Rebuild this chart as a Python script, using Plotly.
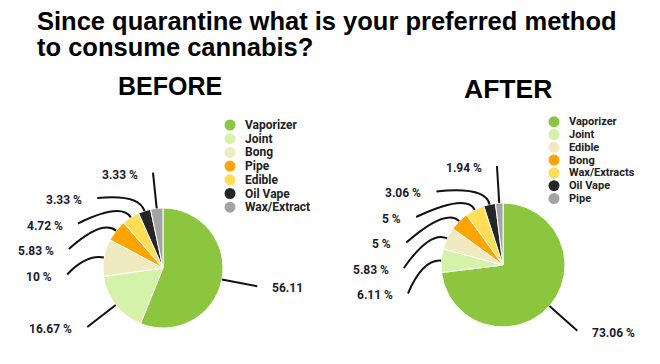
import math
import plotly.graph_objects as go

W, H = 660, 364

# ---- data ----
before_labels = ["Vaporizer", "Joint", "Bong", "Pipe", "Edible", "Oil Vape", "Wax/Extract"]
before_values = [56.11, 16.67, 10, 5.83, 4.72, 3.33, 3.33]
before_text = ["56.11", "16.67 %", "10 %", "5.83 %", "4.72 %", "3.33 %", "3.33 %"]

after_labels = ["Vaporizer", "Joint", "Edible", "Bong", "Wax/Extracts", "Oil Vape", "Pipe"]
after_values = [73.06, 6.11, 5.83, 5, 5, 3.06, 1.94]
after_text = ["73.06 %", "6.11 %", "5.83 %", "5 %", "5 %", "3.06 %", "1.94 %"]

slice_colors = ["#8cc63f", "#d5f2a9", "#efeabf", "#ffa400", "#fedd57", "#262626", "#a3a3a5"]

# ---- layout constants (pixels) ----
PIE_B = dict(cx=163, cy=268, r=60)
PIE_A = dict(cx=503, cy=265, r=62)
LEG_B = dict(x=230, y=125, step=13.7, size=12)
LEG_A = dict(x=554, y=121.7, step=12.8, size=11)

LABEL_FONT = dict(family="Roboto", size=12, color="#1a1a2e", weight="bold")


def px(x):
    return x / W


def py(y):
    return 1 - y / H


def domain(p):
    return dict(x=[px(p["cx"] - p["r"]), px(p["cx"] + p["r"])],
                y=[py(p["cy"] + p["r"]), py(p["cy"] - p["r"])])


fig = go.Figure()
for labels, values, p in ((before_labels, before_values, PIE_B), (after_labels, after_values, PIE_A)):
    fig.add_trace(go.Pie(
        labels=labels, values=values, sort=False, direction="clockwise", rotation=0,
        domain=domain(p), textinfo="none", hoverinfo="label+percent",
        marker=dict(colors=slice_colors, line=dict(color="white", width=1)),
        showlegend=False,
    ))

shapes = []
annotations = []


def leaders(values, texts, p, gap=25.5, k=1.6):
    cx, cy, r = p["cx"], p["cy"], p["r"]
    total = sum(values)
    cum = 0
    items = []
    for v, t in zip(values, texts):
        mid = (cum + v / 2) / total * 2 * math.pi
        cum += v
        items.append((mid, t))
    R = k * r
    left = [(m, t) for m, t in items if math.sin(m) < 0]
    right = [(m, t) for m, t in items if math.sin(m) >= 0]
    for side, sign in ((left, -1), (right, 1)):
        pts = sorted([(cy - R * math.cos(m), m, t) for m, t in side])
        prev = -1e9
        for y0, m, t in pts:
            y = max(y0, prev + gap)
            prev = y
            dy = y - cy
            dx = math.sqrt(max(R * R - dy * dy, 0))
            x = cx + sign * dx
            ex, ey = cx + r * math.sin(m), cy - r * math.cos(m)
            qx, qy = cx + 1.3 * r * math.sin(m), cy - 1.3 * r * math.cos(m)
            path = f"M {px(ex)},{py(ey)} Q {px(qx)},{py(qy)} {px(x)},{py(y)}"
            shapes.append(dict(type="path", path=path, xref="paper", yref="paper",
                               line=dict(color="#111111", width=2)))
            annotations.append(dict(
                text=t, x=px(x + sign * 13), y=py(y + 2), xref="paper", yref="paper",
                xanchor="right" if sign < 0 else "left", yanchor="middle",
                showarrow=False, font=LABEL_FONT))


leaders(before_values, before_text, PIE_B)
leaders(after_values, after_text, PIE_A)


def legend(labels, L):
    for i, lab in enumerate(labels):
        y = L["y"] + i * L["step"]
        shapes.append(dict(type="circle", xref="paper", yref="paper",
                           x0=px(L["x"] - 5.5), x1=px(L["x"] + 5.5),
                           y0=py(y + 5.5), y1=py(y - 5.5),
                           fillcolor=slice_colors[i], line=dict(width=0)))
        annotations.append(dict(
            text=lab, x=px(L["x"] + 13), y=py(y), xref="paper", yref="paper",
            xanchor="left", yanchor="middle", showarrow=False,
            font=dict(family="Roboto", size=L["size"], color="#222222", weight="bold")))


legend(before_labels, LEG_B)
legend(after_labels, LEG_A)

TITLE_FONT = dict(family="Liberation Sans, Arial", size=25.5, color="#000000", weight="bold")
annotations += [
    dict(text="Since quarantine what is your preferred method", x=px(35), y=py(21),
         xref="paper", yref="paper", xanchor="left", yanchor="middle", showarrow=False, font=TITLE_FONT),
    dict(text="to consume cannabis?", x=px(35), y=py(47.5),
         xref="paper", yref="paper", xanchor="left", yanchor="middle", showarrow=False, font=TITLE_FONT),
    dict(text="BEFORE", x=px(170), y=py(86), xref="paper", yref="paper", xanchor="center",
         yanchor="middle", showarrow=False,
         font=dict(family="Liberation Sans, Arial", size=25, color="#000000", weight="bold")),
    dict(text="AFTER", x=px(508), y=py(89), xref="paper", yref="paper", xanchor="center",
         yanchor="middle", showarrow=False,
         font=dict(family="Liberation Sans, Arial", size=26.5, color="#000000", weight="bold")),
]

fig.update_layout(
    width=W, height=H, margin=dict(l=0, r=0, t=0, b=0),
    paper_bgcolor="white", plot_bgcolor="white",
    shapes=shapes, annotations=annotations, showlegend=False,
)

fig.write_html("out.html", config={"displayModeBar": False},
               post_script="document.body.style.margin='0';")
